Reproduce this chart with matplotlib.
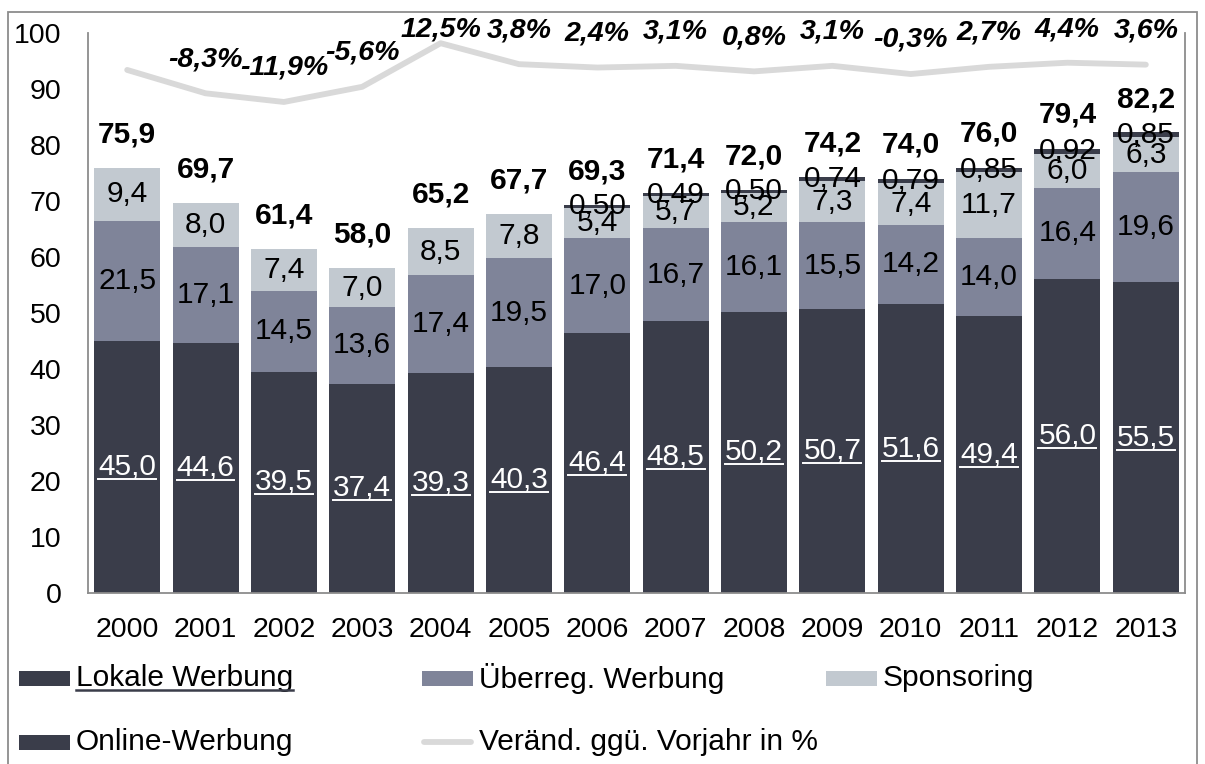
import numpy as np
import matplotlib
matplotlib.use("Agg")
import matplotlib.pyplot as plt
from matplotlib.patches import Rectangle
from matplotlib.lines import Line2D

plt.rcParams['font.family'] = ['Liberation Sans', 'DejaVu Sans']

# ---------------- data ----------------
years = ["2000", "2001", "2002", "2003", "2004", "2005", "2006",
         "2007", "2008", "2009", "2010", "2011", "2012", "2013"]
lokal = [45.0, 44.6, 39.5, 37.4, 39.3, 40.3, 46.4, 48.5, 50.2, 50.7, 51.6, 49.4, 56.0, 55.5]
ueberreg = [21.5, 17.1, 14.5, 13.6, 17.4, 19.5, 17.0, 16.7, 16.1, 15.5, 14.2, 14.0, 16.4, 19.6]
sponsoring = [9.4, 8.0, 7.4, 7.0, 8.5, 7.8, 5.4, 5.7, 5.2, 7.3, 7.4, 11.7, 6.0, 6.3]
online = [0, 0, 0, 0, 0, 0, 0.50, 0.49, 0.50, 0.74, 0.79, 0.85, 0.92, 0.85]
totals = [75.9, 69.7, 61.4, 58.0, 65.2, 67.7, 69.3, 71.4, 72.0, 74.2, 74.0, 76.0, 79.4, 82.2]
change_pct = [1.4, -8.3, -11.9, -5.6, 12.5, 3.8, 2.4, 3.1, 0.8, 3.1, -0.3, 2.7, 4.4, 3.6]
show_change_label = [False] + [True] * 13

series_names = ["Lokale Werbung", "Überreg. Werbung", "Sponsoring",
                "Online-Werbung", "Veränd. ggü. Vorjahr in %"]

# ---------------- style ----------------
C_LOK = "#3a3d4a"
C_UEB = "#7f8499"
C_SPO = "#c2c9d0"
C_ONL = "#3a3d4a"
C_LINE = "#d9d9d9"
C_AX = "#8c8c8c"

W, H = 1205, 764
fig = plt.figure(figsize=(W / 100, H / 100), dpi=100)

ax = fig.add_axes([88 / W, 1 - 593 / H, (1185 - 88) / W, 560 / H])
ax2 = ax.twinx()

x = np.arange(len(years))
lokal_a = np.array(lokal)
ueb_a = np.array(ueberreg)
spo_a = np.array(sponsoring)
onl_a = np.array(online)

bw = 0.842
ax.bar(x, lokal_a, bw, color=C_LOK, zorder=2)
ax.bar(x, ueb_a, bw, bottom=lokal_a, color=C_UEB, zorder=2)
ax.bar(x, spo_a, bw, bottom=lokal_a + ueb_a, color=C_SPO, zorder=2)
ax.bar(x, onl_a, bw, bottom=lokal_a + ueb_a + spo_a, color=C_ONL, zorder=2)

ax.set_xlim(-0.5, len(years) - 0.5)
ax.set_ylim(0, 100)
ax.set_yticks(range(0, 101, 10))
ax.set_xticks(x)
ax.set_xticklabels(years)
ax.tick_params(axis='both', length=0, labelsize=20.5, colors="black")
ax.tick_params(axis='y', pad=19)
ax.tick_params(axis='x', pad=17)
for s in ["top", "right"]:
    ax.spines[s].set_visible(False)
for s in ["left", "bottom"]:
    ax.spines[s].set_color(C_AX)
    ax.spines[s].set_linewidth(1.3)

# secondary axis for the change line
P0, P1 = -215.8, 16.74
ax2.set_ylim(P0, P1)
ax2.set_yticks([])
for s in ["top", "left", "bottom"]:
    ax2.spines[s].set_visible(False)
ax2.spines["right"].set_color(C_AX)
ax2.spines["right"].set_linewidth(1.3)
ax2.plot(x, change_pct, color=C_LINE, lw=4.2, solid_capstyle="round",
         solid_joinstyle="round", zorder=3)


def to_left(p):
    return (p - P0) / (P1 - P0) * 100.0


def f1(v):
    return f"{v:.1f}".replace(".", ",")


def f2(v):
    return f"{v:.2f}".replace(".", ",")


FS_IN = 21.5
underlines = []
T = ax.transData
for i in range(len(years)):
    t = ax2.text(x[i], lokal[i] / 2, f1(lokal[i]), color="white", fontsize=FS_IN,
                 ha="center", va="center", transform=T, zorder=5)
    underlines.append((t, "white", 1.4))
    ax2.text(x[i], lokal[i] + ueberreg[i] / 2, f1(ueberreg[i]), color="black",
             fontsize=FS_IN, ha="center", va="center", transform=T, zorder=5)
    ax2.text(x[i], lokal[i] + ueberreg[i] + sponsoring[i] / 2, f1(sponsoring[i]),
             color="black", fontsize=FS_IN, ha="center", va="center", transform=T, zorder=5)
    if online[i] > 0:
        top = lokal[i] + ueberreg[i] + sponsoring[i] + online[i]
        ax2.text(x[i], top - online[i] / 2, f2(online[i]), color="black",
                 fontsize=FS_IN, ha="center", va="center", transform=T, zorder=5)
    ax2.text(x[i], totals[i] + 6.0, f1(totals[i]), color="black", fontsize=21.5,
             fontweight="bold", ha="center", va="center", transform=T, zorder=5)
    if show_change_label[i]:
        ly = min(to_left(change_pct[i]) + 6.1, 100.6)
        ax2.text(x[i], ly, f1(change_pct[i]) + "%", color="black", fontsize=20.5,
                 fontweight="bold", fontstyle="italic", ha="center", va="center",
                 transform=T, zorder=5, clip_on=False)

# ---------------- legend (manual layout) ----------------
leg_items = [
    (series_names[0], "patch", C_LOK, 19, 678, True),
    (series_names[1], "patch", C_UEB, 422, 678, False),
    (series_names[2], "patch", C_SPO, 826, 678, False),
    (series_names[3], "patch", C_ONL, 19, 742, False),
    (series_names[4], "line", C_LINE, 422, 742, False),
]
for name, kind, col, px, py, ul in leg_items:
    if kind == "patch":
        fig.add_artist(Rectangle((px / W, 1 - (py + 7.5) / H), 51 / W, 15 / H,
                                 transform=fig.transFigure, color=col, lw=0))
    else:
        fig.add_artist(Line2D([(px + 2) / W, (px + 49) / W], [1 - py / H, 1 - py / H],
                              transform=fig.transFigure, color=col, lw=4.2,
                              solid_capstyle="round"))
    t = fig.text((px + 57) / W, 1 - py / H, name, fontsize=21.5, ha="left",
                 va="center", color="black")
    if ul:
        underlines.append((t, C_LOK, 1.8))

# outer frame
fig.add_artist(Rectangle((8 / W, -0.05), (1197 - 8) / W, 1.05 - 12 / H,
                         transform=fig.transFigure, fill=False, ec=C_AX, lw=1.3))

# underlines
fig.canvas.draw()
r = fig.canvas.get_renderer()
for t, col, lw in underlines:
    bb = t.get_window_extent(r)
    yy = bb.y0 + 2
    fig.add_artist(Line2D([bb.x0 / W, bb.x1 / W], [yy / H, yy / H],
                          transform=fig.transFigure, color=col, lw=lw, zorder=6))

fig.savefig("out.png", dpi=100)
